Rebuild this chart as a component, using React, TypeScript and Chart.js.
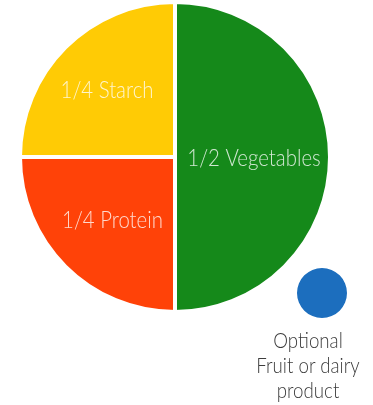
import React, { useEffect, useRef } from "react";
import { Chart, registerables } from "chart.js";

Chart.register(...registerables);

const categories = ["1/2 Vegetables", "1/4 Protein", "1/4 Starch"];
const values = [50, 25, 25];
const colors = ["#15891A", "#FF4208", "#FFCB05"];
const labelRadius = [0.51, 0.57, 0.62];

const extraCategories = ["Optional Fruit or dairy product"];
const extraValues = [1];
const extraColors = ["#1C6EBE"];
const captionLines = ["Optional", "Fruit or dairy", "product"];

const FONT = "Lato, 'Open Sans', sans-serif";
const SQUEEZE = 0.85;

const sliceLabels = {
  id: "sliceLabels",
  afterDatasetsDraw(chart: any) {
    const ctx = chart.ctx;
    const meta = chart.getDatasetMeta(0);
    const size = 24;
    ctx.save();
    ctx.font = `300 ${size}px ${FONT}`;
    ctx.fillStyle = "rgba(255,255,255,0.8)";
    ctx.textAlign = "center";
    ctx.textBaseline = "alphabetic";
    meta.data.forEach((arc: any, i: number) => {
      const p = arc.getProps(["x", "y", "startAngle", "endAngle", "outerRadius"], true);
      const mid = (p.startAngle + p.endAngle) / 2;
      const r = p.outerRadius * labelRadius[i];
      const x = p.x + Math.cos(mid) * r;
      const y = p.y + Math.sin(mid) * r + size * 0.36;
      ctx.save();
      ctx.translate(x, y);
      ctx.scale(SQUEEZE, 1);
      ctx.fillText(categories[i], 0, 0);
      ctx.restore();
    });
    ctx.restore();
  },
};

export default function App() {
  const mainRef = useRef<HTMLCanvasElement>(null);
  const dotRef = useRef<HTMLCanvasElement>(null);

  useEffect(() => {
    const main = new Chart(mainRef.current!, {
      type: "pie",
      data: {
        labels: categories,
        datasets: [
          {
            data: values,
            backgroundColor: colors,
            borderColor: "#ffffff",
            borderWidth: 4,
          },
        ],
      },
      options: {
        responsive: false,
        animation: false,
        radius: 155,
        layout: { padding: { left: 0, right: 23, top: 0, bottom: 91 } },
        plugins: { legend: { display: false }, tooltip: { enabled: false } },
      },
      plugins: [sliceLabels],
    });
    const dot = new Chart(dotRef.current!, {
      type: "pie",
      data: {
        labels: extraCategories,
        datasets: [
          { data: extraValues, backgroundColor: extraColors, borderWidth: 0 },
        ],
      },
      options: {
        responsive: false,
        animation: false,
        radius: 25,
        plugins: { legend: { display: false }, tooltip: { enabled: false } },
      },
    });
    return () => {
      main.destroy();
      dot.destroy();
    };
  }, []);

  return (
    <div style={{ position: "fixed", left: 0, top: 0, width: 373, height: 405, background: "#fff" }}>
      <canvas ref={mainRef} width={373} height={405} style={{ position: "absolute", left: 0, top: 0 }} />
      <canvas ref={dotRef} width={60} height={60} style={{ position: "absolute", left: 292, top: 263 }} />
      <div
        style={{
          position: "absolute",
          left: 238,
          top: 327,
          width: 140,
          textAlign: "center",
          fontFamily: FONT,
          fontWeight: 300,
          fontSize: 22,
          lineHeight: "25px",
          color: "#3c3c3c",
          whiteSpace: "nowrap",
          transform: `scaleX(${SQUEEZE})`,
          transformOrigin: "50% 0",
        }}
      >
        {captionLines.map((l) => (
          <div key={l}>{l}</div>
        ))}
      </div>
    </div>
  );
}
